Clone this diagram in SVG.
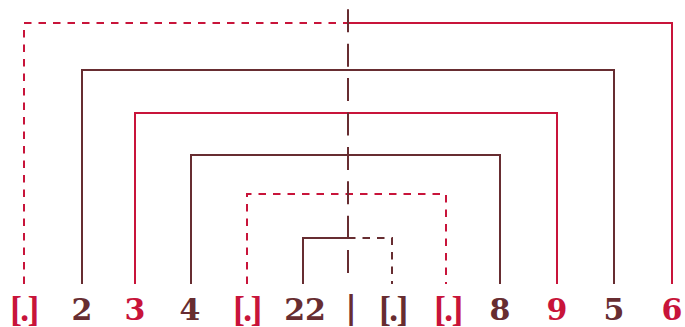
<svg xmlns="http://www.w3.org/2000/svg" width="685" height="327" viewBox="0 0 685 327">
<style>
.ln{fill:none;stroke-width:2;stroke-linejoin:miter}
.r{stroke:#c8143a}
.b{stroke:#672d31}
.d{stroke-dasharray:7.5 7}
.c{stroke-dasharray:23 11.4}
.t{font-family:"DejaVu Serif","Liberation Serif",serif;font-weight:bold;font-size:30px;text-anchor:middle}
.k{font-family:"Liberation Serif","DejaVu Serif",serif;font-weight:bold;font-size:35px;text-anchor:middle;letter-spacing:-1.5px}
.v{font-family:"DejaVu Serif","Liberation Serif",serif;font-weight:bold;font-size:32px;text-anchor:middle}
.tr{fill:#c8143a}
.tb{fill:#672d31}
</style>
<rect width="685" height="327" fill="#ffffff"/>
<g id="connectors">
<path class="ln r d" d="M24,284 V23 H348"/>
<path class="ln r" d="M348,23 H672 V284"/>
<path class="ln b" d="M82,284 V70 H614 V284"/>
<path class="ln r" d="M135,284 V113 H557 V284"/>
<path class="ln b" d="M191,284 V155 H500 V284"/>
<path class="ln r d" d="M247,284 V194 H446 V284"/>
<path class="ln b" d="M303,284 V238 H348"/>
<path class="ln b d" d="M348,238 H392 V284"/>
<path class="ln b c" d="M348,9.3 V275"/>
</g>
<g id="n1"><text class="k tr" x="24" y="320.5">[.]</text></g>
<g id="n2"><text class="t tb" x="82" y="320">2</text></g>
<g id="n3"><text class="t tr" x="135" y="320">3</text></g>
<g id="n4"><text class="t tb" x="190" y="320">4</text></g>
<g id="n5"><text class="k tr" x="247" y="320.5">[.]</text></g>
<g id="n6"><text class="t tb" x="305" y="320">22</text></g>
<g id="n7"><text class="v tb" x="351" y="318">|</text></g>
<g id="n8"><text class="k tb" x="393" y="320.5">[.]</text></g>
<g id="n9"><text class="k tr" x="448" y="320.5">[.]</text></g>
<g id="n10"><text class="t tb" x="500" y="320">8</text></g>
<g id="n11"><text class="t tr" x="557" y="320">9</text></g>
<g id="n12"><text class="t tb" x="614" y="320">5</text></g>
<g id="n13"><text class="t tr" x="672" y="320">6</text></g>
</svg>
